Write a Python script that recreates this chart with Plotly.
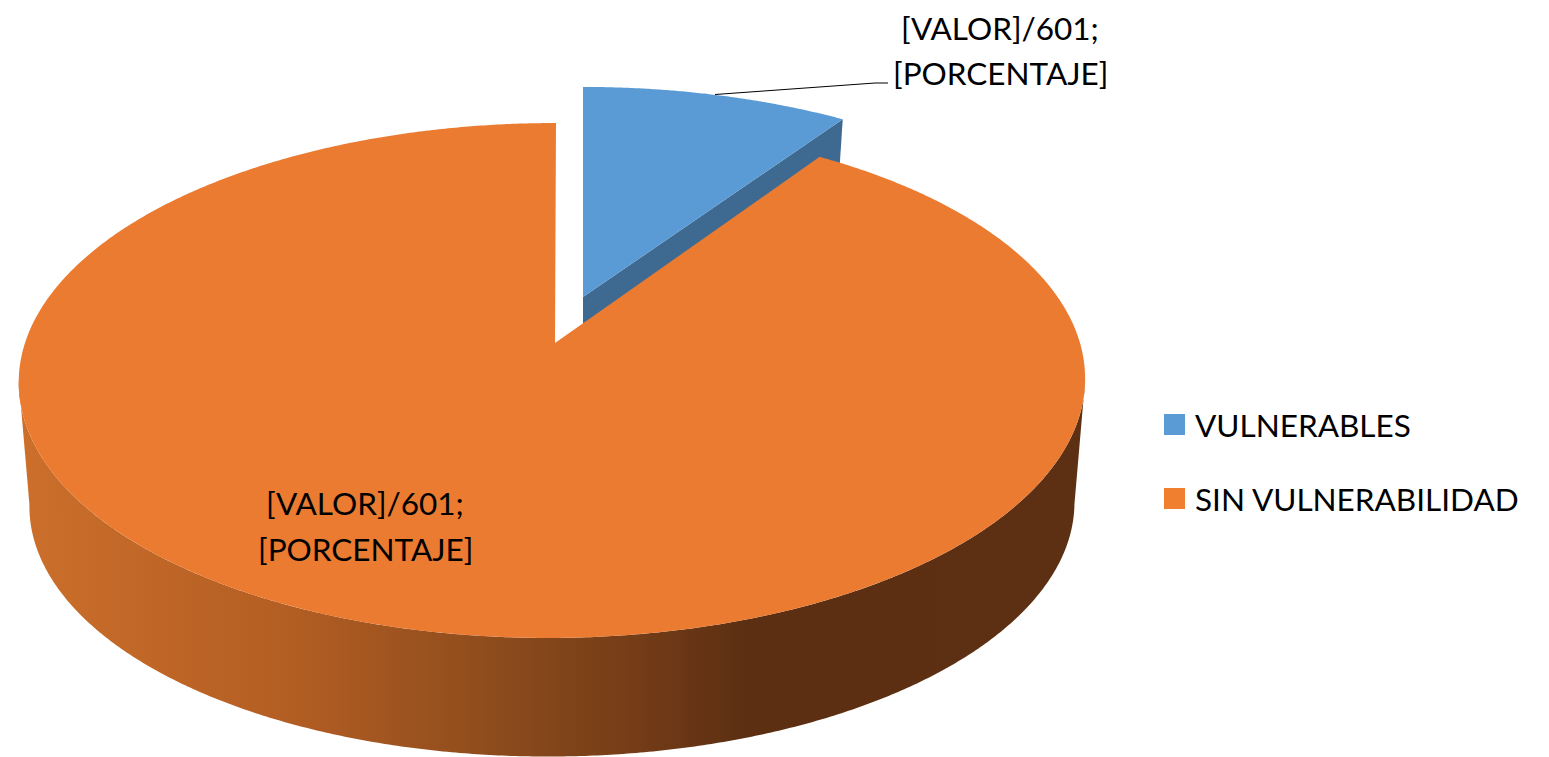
import numpy as np
import plotly.graph_objects as go

# Data
categories = ["VULNERABLES", "SIN VULNERABILIDAD"]
values = [57, 544]
total_label = 601
label_lines = ["[VALOR]/601;", "[PORCENTAJE]"]
top_colors = ["#5B9BD5", "#EB7B30"]
legend_colors = ["#5B9BD5", "#F08030"]
blue_side = "#3E6A92"

# View geometry of the tilted pie (screen pixels)
W, H = 1549, 757
R, A, K = 527.5, 252.0, 0.1456       # radius, vertical extent, perspective
CX, CY = 552.5, 343.0                # plane centre of the large slice
SKEW = 4.0
APEX_X = 555.0
BLUE_CX, BLUE_CY = 583.0, 297.0      # exploded slice
BLUE_SX, BLUE_SY = 0.983, 0.955
BLUE_DROP = 46.0
RIM_SCALE, RIM_DROP = 0.98, 124.5    # lower rim of the disc


def rim(theta, cx=CX, cy=CY, sx=1.0, sy=1.0, skew=SKEW):
    """theta clockwise from 12 o'clock, projected to the screen."""
    d = 1 + K * np.cos(theta)
    x = cx + sx * (R * np.sin(theta) + skew * np.cos(theta)) / d
    y = cy - sy * A * np.cos(theta) / d
    return x, y


cut = 2 * np.pi * values[0] / sum(values)
crisp = dict(width=0, simplify=False)

fig = go.Figure()

# side wall of the large slice: gradient from warm orange to dark brown
widest = np.arccos(-K)
t_side = np.linspace(widest, 2 * np.pi - widest, 400)
xt, yt = rim(t_side)
xb, yb = rim(t_side[::-1], cy=CY + RIM_DROP, sx=RIM_SCALE, sy=RIM_SCALE)
fig.add_trace(go.Scatter(
    x=np.r_[xt, xb], y=np.r_[yt, yb], mode="lines", fill="toself",
    line=crisp, showlegend=False, hoverinfo="skip",
    fillgradient=dict(type="horizontal", start=20, stop=1086, colorscale=[
        [0.00, "#CC6F2B"], [0.25, "#B35E23"], [0.45, "#8C4B1C"],
        [0.58, "#743C17"], [0.68, "#5C2F12"], [1.00, "#5E3013"]]),
))

# cut face of the exploded slice
ex, ey = rim(cut, BLUE_CX, BLUE_CY, BLUE_SX, BLUE_SY, 0)
fig.add_trace(go.Scatter(
    x=[BLUE_CX, ex, ex - 3, BLUE_CX],
    y=[BLUE_CY, ey, ey + BLUE_DROP, BLUE_CY + BLUE_DROP],
    mode="lines", fill="toself", fillcolor=blue_side,
    line=crisp, showlegend=False, hoverinfo="skip",
))

# top face, exploded slice
t = np.linspace(0, cut, 120)
bx, by = rim(t, BLUE_CX, BLUE_CY, BLUE_SX, BLUE_SY, 0)
fig.add_trace(go.Scatter(
    x=np.r_[BLUE_CX, bx, BLUE_CX], y=np.r_[BLUE_CY, by, BLUE_CY],
    mode="lines", fill="toself", fillcolor=top_colors[0], name=categories[0],
    line=crisp, showlegend=False,
))

# top face, large slice
t = np.linspace(cut, 2 * np.pi, 800)
ox, oy = rim(t)
fig.add_trace(go.Scatter(
    x=np.r_[APEX_X, ox, APEX_X], y=np.r_[CY, oy, CY],
    mode="lines", fill="toself", fillcolor=top_colors[1], name=categories[1],
    line=crisp, showlegend=False,
))

# leader line of the small slice's label
fig.add_trace(go.Scatter(
    x=[715, 875, 888], y=[94.5, 83, 83], mode="lines",
    line=dict(color="#000000", width=1), showlegend=False, hoverinfo="skip",
))

# legend keys
legend_y = [424.5, 498.5]
fig.add_trace(go.Scatter(
    x=[1174.5, 1174.5], y=legend_y, mode="markers",
    marker=dict(symbol="square", size=21, color=legend_colors, line=dict(width=0)),
    showlegend=False, hoverinfo="skip",
))

FONT = "Lato"
SIZE = 31.5
annos = []
for x, ys in [(1000, (28, 73)), (365, (503, 549))]:
    for line, y in zip(label_lines, ys):
        annos.append(dict(x=x, y=y, text=line, xref="x", yref="y", showarrow=False,
                          xanchor="center", yanchor="middle",
                          font=dict(family=FONT, size=SIZE, color="#000000")))
for name, y in zip(categories, legend_y):
    annos.append(dict(x=1193, y=y, text=name, xref="x", yref="y", showarrow=False,
                      xanchor="left", yanchor="middle",
                      font=dict(family=FONT, size=SIZE, color="#000000")))

fig.update_layout(
    width=W, height=H, margin=dict(l=0, r=0, t=0, b=0),
    paper_bgcolor="#FFFFFF", plot_bgcolor="#FFFFFF", showlegend=False,
    xaxis=dict(range=[0, W], visible=False, fixedrange=True),
    yaxis=dict(range=[H, 0], visible=False, fixedrange=True),
    annotations=annos,
)

fig.write_html("out.html", config={"displayModeBar": False},
               post_script="document.body.style.margin='0';document.body.style.overflow='hidden';")
